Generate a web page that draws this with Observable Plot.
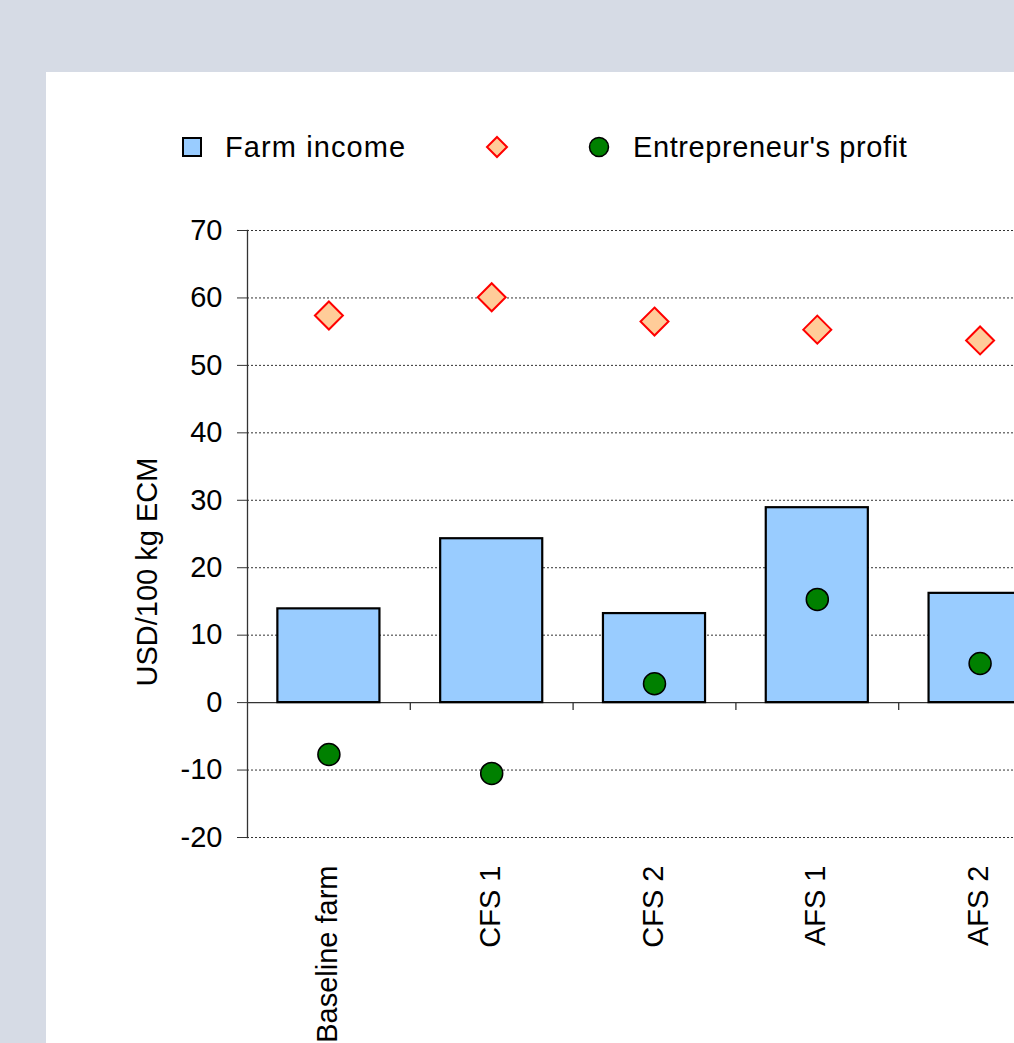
<!DOCTYPE html>
<html>
<head>
<meta charset="utf-8">
<script src="https://cdn.jsdelivr.net/npm/d3@7"></script>
<script src="https://cdn.jsdelivr.net/npm/@observablehq/plot@0.6"></script>
<style>
  html, body { margin: 0; padding: 0; width: 1014px; height: 1043px; overflow: hidden; background: #d6dbe5; font-family: "Liberation Sans", Arial, sans-serif; }
  #panel { position: absolute; left: 46px; top: 72px; width: 1100px; height: 1100px; background: #ffffff; }
  #chart { position: absolute; left: 0; top: 0; width: 1061px; height: 1043px; }
  #chart svg { max-width: none !important; }
  #overlay { position: absolute; left: 0; top: 0; }
</style>
</head>
<body>
<div id="panel"></div>
<div id="chart"></div>
<svg id="overlay" width="1014" height="1043"></svg>
<script>
const categories = ["Baseline farm", "CFS 1", "CFS 2", "AFS 1", "AFS 2"];
const farmIncome = [13.9, 24.3, 13.2, 28.9, 16.2];
const diamondSeries = [57.4, 60.1, 56.5, 55.3, 53.7];
const entrepreneurProfit = [-7.7, -10.5, 2.8, 15.3, 5.8];
const yTicks = [-20, -10, 0, 10, 20, 30, 40, 50, 60, 70];
const seriesNames = ["Farm income", "", "Entrepreneur's profit"];
const yLabel = "USD/100 kg ECM";

const rows = categories.map((c, i) => ({
  category: c,
  farm: farmIncome[i],
  diamond: diamondSeries[i],
  profit: entrepreneurProfit[i]
}));

const W = 1061, H = 1043, mL = 247, mR = 0, mT = 230, mB = 206;
const step = (W - mL - mR) / categories.length;
const pxPerUnit = (H - mT - mB) / (yTicks[yTicks.length - 1] - yTicks[0]);
const tickLen = 8 / pxPerUnit;
const font = "Liberation Sans, Arial, sans-serif";

const chart = Plot.plot({
  width: W,
  height: H,
  marginLeft: mL,
  marginRight: mR,
  marginTop: mT,
  marginBottom: mB,
  style: { background: "transparent", fontFamily: font, overflow: "visible", color: "#000", maxWidth: "none" },
  x: { domain: categories, paddingInner: 0.373, paddingOuter: 0.1865, round: false, axis: null },
  y: { domain: [yTicks[0], yTicks[yTicks.length - 1]], axis: null },
  marks: [
    Plot.gridY(yTicks.filter(d => d !== 0), { stroke: "#333", strokeOpacity: 1, strokeWidth: 1, strokeDasharray: "2,2" }),
    Plot.ruleY([0], { stroke: "#333", strokeWidth: 1.3 }),
    Plot.ruleX(categories.slice(0, -1), { x: d => d, y1: 0, y2: -tickLen, dx: step / 2, stroke: "#333", strokeWidth: 1.3 }),
    Plot.barY(rows, { x: "category", y: "farm", fill: "#99ccff", stroke: "#000", strokeWidth: 2.2 }),
    Plot.dot(rows, { x: "category", y: "diamond", symbol: "diamond2", r: 12.6, fill: "#ffcc99", stroke: "#ff0000", strokeWidth: 2 }),
    Plot.dot(rows, { x: "category", y: "profit", r: 11, fill: "#008000", stroke: "#000", strokeWidth: 1.5 }),
    Plot.frame({ anchor: "left", stroke: "#333", strokeWidth: 1.3 }),
    Plot.axisY({ ticks: yTicks, tickSize: 10, tickPadding: 15, fontSize: 29, label: null, stroke: "#333", fill: "#000", tickFormat: d => String(d).replace("−", "-") }),
    Plot.text(categories, { x: d => d, frameAnchor: "bottom", dx: 8, dy: 28, rotate: -90, textAnchor: "end", fontSize: 29, fill: "#000" })
  ]
});
document.getElementById("chart").appendChild(chart);

// Legend and y-axis label
const ov = d3.select("#overlay");
ov.append("text")
  .attr("transform", "translate(157,572) rotate(-90)")
  .attr("text-anchor", "middle")
  .attr("font-family", font)
  .attr("font-size", 29)
  .attr("fill", "#000")
  .text(yLabel);

const lg = ov.append("g").attr("font-family", font).attr("font-size", 29).attr("fill", "#000");
// Farm income swatch
lg.append("rect").attr("x", 183).attr("y", 138).attr("width", 18).attr("height", 18)
  .attr("fill", "#99ccff").attr("stroke", "#000").attr("stroke-width", 2);
lg.append("text").attr("x", 225).attr("y", 157).attr("letter-spacing", 1.1).text(seriesNames[0]);
// Diamond swatch
lg.append("path").attr("d", "M497,137 L507,147 L497,157 L487,147 Z")
  .attr("fill", "#ffcc99").attr("stroke", "#ff0000").attr("stroke-width", 2);
lg.append("text").attr("x", 530).attr("y", 157).text(seriesNames[1]);
// Profit swatch
lg.append("circle").attr("cx", 599).attr("cy", 147).attr("r", 9.5)
  .attr("fill", "#008000").attr("stroke", "#000").attr("stroke-width", 1.5);
lg.append("text").attr("x", 633).attr("y", 157).attr("letter-spacing", 0.6).text(seriesNames[2]);
</script>
</body>
</html>
